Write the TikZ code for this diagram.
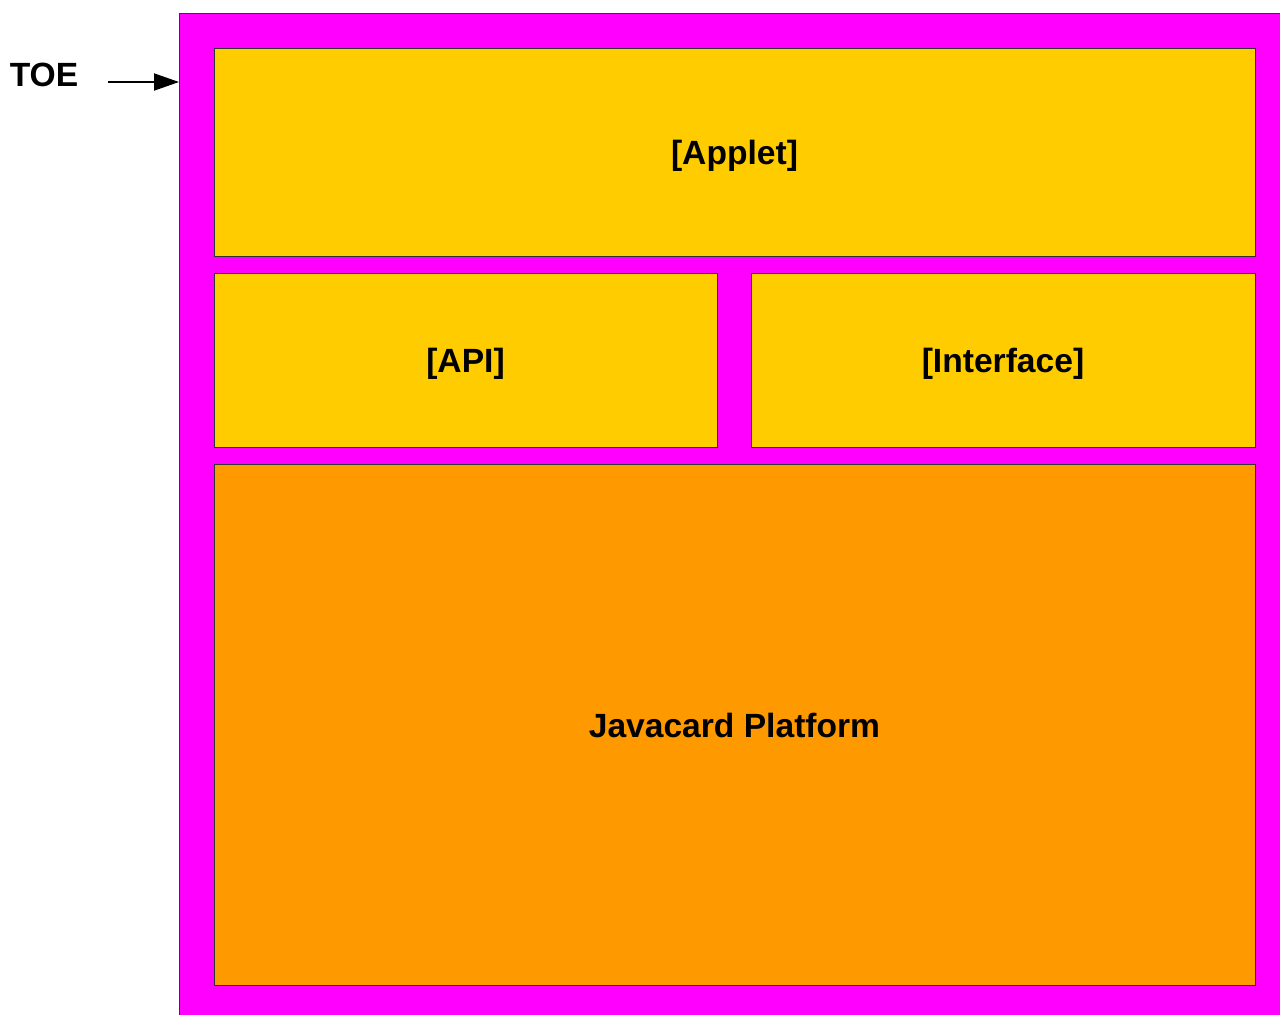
\documentclass[tikz,border=0pt]{standalone}
\usepackage{fontspec}
\setmainfont{Liberation Sans}
\usepackage{tikz}
\usetikzlibrary{arrows.meta,positioning}

\definecolor{toemag}{HTML}{FF00FF}
\definecolor{layeryellow}{HTML}{FFCC00}
\definecolor{layerorange}{HTML}{FF9900}

\tikzset{
  layer/.style={draw=black!80, line width=0.5pt, inner sep=0pt, outer sep=0pt,
                text height=16pt, text depth=3.5pt,
                font=\fontsize{16.8}{20}\selectfont\bfseries},
}

\begin{document}
\begin{tikzpicture}[x=0.5pt,y=-0.5pt]
   \useasboundingbox (0,0) rectangle (1280,1014);
   \clip (0,0) rectangle (1280,1014);

   % outer TOE frame
   \node[layer, fill=toemag, minimum width=555.5pt, minimum height=506pt] (toe) at (734.5,519) {};

   % layers
   \node[layer, fill=layeryellow, minimum width=520.5pt, minimum height=104pt] (applet) at (734.5,152) {[Applet]};
   \node[layer, fill=layeryellow, minimum width=251.5pt, minimum height=87pt] (api) at (465.5,360) {[API]};
   \node[layer, fill=layeryellow, minimum width=252pt, minimum height=87pt] (iface) at (1003,360) {[Interface]};
   \node[layer, fill=layerorange, minimum width=520.5pt, minimum height=260.5pt] (platform) at (734.5,724.5) {Javacard Platform};

   % label
   \node[font=\fontsize{16.8}{20}\selectfont\bfseries] (toelbl) at (44,75) {TOE};
   \coordinate (toetail) at (108,82);
   \draw[-{Triangle[length=12.5pt,width=8.5pt]}, line width=1pt] (toetail) -- (toetail -| toe.west);
\end{tikzpicture}
\end{document}
